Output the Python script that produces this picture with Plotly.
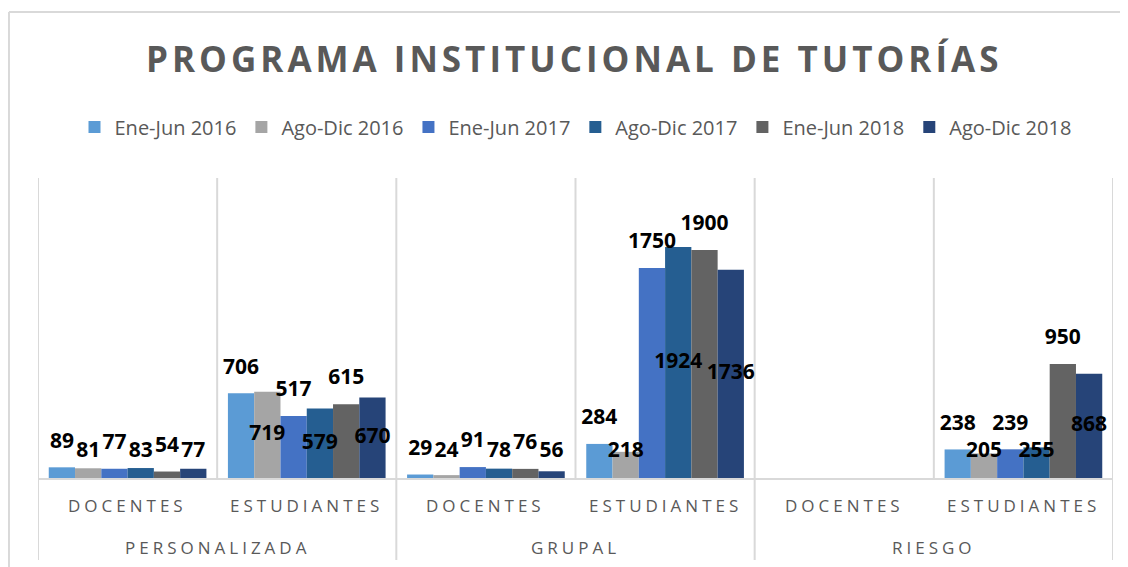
import plotly.graph_objects as go

# ---- data ----
groups = ["PERSONALIZADA", "GRUPAL", "RIESGO"]
subcats = ["DOCENTES", "ESTUDIANTES"]
series_names = ["Ene-Jun 2016", "Ago-Dic 2016", "Ene-Jun 2017",
                "Ago-Dic 2017", "Ene-Jun 2018", "Ago-Dic 2018"]
# order of categories: PERS-DOC, PERS-EST, GRUP-DOC, GRUP-EST, RIES-DOC, RIES-EST
ene_jun_2016 = [89, 706, 29, 284, None, 238]
ago_dic_2016 = [81, 719, 24, 218, None, 205]
ene_jun_2017 = [77, 517, 91, 1750, None, 239]
ago_dic_2017 = [83, 579, 78, 1924, None, 255]
ene_jun_2018 = [54, 615, 76, 1900, None, 950]
ago_dic_2018 = [77, 670, 56, 1736, None, 868]
values = [ene_jun_2016, ago_dic_2016, ene_jun_2017, ago_dic_2017, ene_jun_2018, ago_dic_2018]
title_text = "PROGRAMA INSTITUCIONAL DE TUTORÍAS"

# ---- style ----
colors = ["#5B9BD5", "#A5A5A5", "#4472C4", "#255E91", "#636363", "#264478"]
FONT = "Open Sans"
GRAY = "#595959"
LINE = "#D9D9D9"
BARGAP = 0.12
YMAX = 2500
PLOT_H = 300

n_cat = len(groups) * len(subcats)
xs = list(range(n_cat))
n_ser = len(series_names)
bw = (1 - BARGAP) / n_ser
units_per_px = YMAX / PLOT_H

fig = go.Figure()
for j, (name, vals) in enumerate(zip(series_names, values)):
    fig.add_trace(go.Bar(x=xs, y=vals, name=name, marker_color=colors[j],
                         marker_line_width=0, hoverinfo="skip"))

# data labels (odd series above bars, even series centred with a floor)
for j, vals in enumerate(values):
    tx, ty, tt = [], [], []
    for i, v in enumerate(vals):
        if v is None:
            continue
        tx.append(i + (j - (n_ser - 1) / 2) * bw)
        if j % 2 == 0:
            ty.append(v + 25 * units_per_px)
        else:
            ty.append(max(v / 2, 26 * units_per_px))
        tt.append(str(v))
    fig.add_trace(go.Scatter(x=tx, y=ty, text=tt, mode="text", showlegend=False,
                             hoverinfo="skip", cliponaxis=False,
                             textfont=dict(family=FONT, size=21, color="black", weight="bold")))

shapes = []
# category separator lines
for k in range(n_cat + 1):
    xb = k - 0.5
    ybot = -0.273 if k % len(subcats) == 0 else 0
    shapes.append(dict(type="line", xref="x", yref="paper", x0=xb, x1=xb, y0=ybot, y1=1,
                       line=dict(color=LINE, width=2), layer="below"))
# chart border (left + top)
shapes.append(dict(type="line", xref="paper", yref="paper", x0=-0.027, x1=-0.027, y0=-0.35, y1=1.553,
                   line=dict(color=LINE, width=2)))
shapes.append(dict(type="line", xref="paper", yref="paper", x0=-0.027, x1=1.03, y0=1.553, y1=1.553,
                   line=dict(color=LINE, width=2)))

annotations = []
ls = "letter-spacing:4px"
for g, grp in enumerate(groups):
    for s, sc in enumerate(subcats):
        annotations.append(dict(x=g * len(subcats) + s, y=-0.09, xref="x", yref="paper",
                                text=f'<span style="{ls}">{sc}</span>', showarrow=False,
                                font=dict(family=FONT, size=17, color=GRAY), yanchor="middle"))
    annotations.append(dict(x=g * len(subcats) + (len(subcats) - 1) / 2, y=-0.23, xref="x", yref="paper",
                            text=f'<span style="{ls}">{grp}</span>', showarrow=False,
                            font=dict(family=FONT, size=17, color=GRAY), yanchor="middle"))

fig.update_layout(
    width=1128, height=567,
    margin=dict(l=30, r=23, t=170, b=97),
    paper_bgcolor="white", plot_bgcolor="white",
    barmode="group", bargap=BARGAP, bargroupgap=0,
    title=dict(text=f'<span style="letter-spacing:4px">{title_text}</span>',
               x=0.502, xanchor="center", y=1 - 52 / 567, yanchor="middle",
               font=dict(family=FONT, size=35, color=GRAY, weight="bold")),
    legend=dict(orientation="h", x=0.5, xanchor="center", y=1.17, yanchor="middle",
                font=dict(family=FONT, size=20, color=GRAY), traceorder="normal",
                itemwidth=30),
    xaxis=dict(range=[-0.5, n_cat - 0.5], showgrid=False, zeroline=False, showticklabels=False,
               showline=True, linecolor=LINE, linewidth=2, ticks=""),
    yaxis=dict(range=[0, YMAX], visible=False, showgrid=False),
    shapes=shapes, annotations=annotations,
    showlegend=True,
)

fig.write_html("out.html")
